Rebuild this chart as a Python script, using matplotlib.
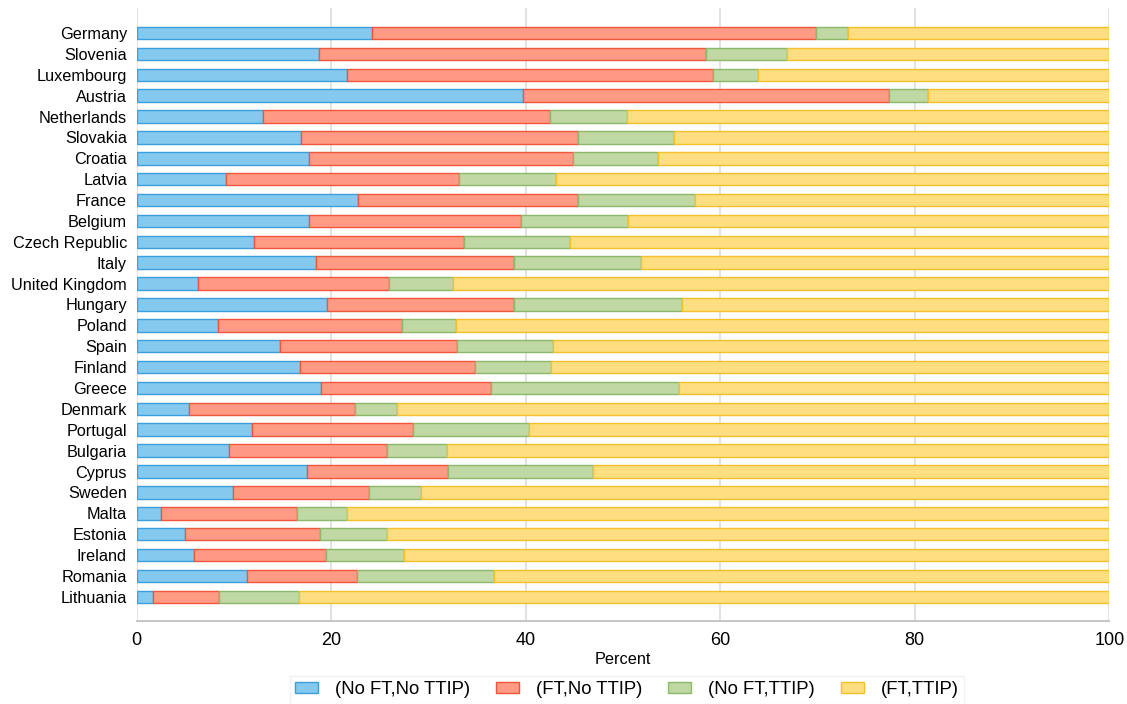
import matplotlib
matplotlib.use("Agg")
import matplotlib.pyplot as plt
import numpy as np

countries = ["Germany", "Slovenia", "Luxembourg", "Austria", "Netherlands", "Slovakia",
             "Croatia", "Latvia", "France", "Belgium", "Czech Republic", "Italy",
             "United Kingdom", "Hungary", "Poland", "Spain", "Finland", "Greece",
             "Denmark", "Portugal", "Bulgaria", "Cyprus", "Sweden", "Malta",
             "Estonia", "Ireland", "Romania", "Lithuania"]

# segment values (percent)
no_ft_no_ttip = [24.2, 18.7, 21.6, 39.7, 13.0, 16.9, 17.7, 9.2, 22.8, 17.7, 12.1, 18.4,
                 6.3, 19.6, 8.4, 14.7, 16.8, 19.0, 5.4, 11.9, 9.5, 17.5, 9.9, 2.5,
                 5.0, 5.9, 11.3, 1.7]
ft_no_ttip = [45.6, 39.8, 37.7, 37.7, 29.5, 28.5, 27.2, 23.9, 22.6, 21.8, 21.6, 20.4,
              19.6, 19.2, 18.9, 18.2, 18.0, 17.4, 17.0, 16.5, 16.2, 14.5, 14.0, 14.0,
              13.8, 13.6, 11.4, 6.8]
no_ft_ttip = [3.3, 8.4, 4.6, 4.0, 7.9, 9.8, 8.7, 10.0, 12.0, 11.0, 10.9, 13.0,
              6.6, 17.3, 5.5, 9.9, 7.8, 19.4, 4.4, 11.9, 6.2, 14.9, 5.3, 5.1,
              6.9, 8.0, 14.0, 8.2]
ft_ttip = [100 - a - b - c for a, b, c in zip(no_ft_no_ttip, ft_no_ttip, no_ft_ttip)]

series_labels = ["(No FT,No TTIP)", "(FT,No TTIP)", "(No FT,TTIP)", "(FT,TTIP)"]
fills = ["#86C9EE", "#FF9B85", "#C0D8A4", "#FFDE82"]
edges = ["#3A9FDB", "#F2553A", "#8CB86A", "#F5C02A"]

plt.rcParams['font.family'] = ['Liberation Sans', 'DejaVu Sans']

fig = plt.figure(figsize=(11.27, 7.04), dpi=100)
ax = fig.add_axes([136.7 / 1127, 1 - 621 / 704, (1109.3 - 136.7) / 1127, (621 - 8) / 704])

y = np.arange(len(countries))
left = np.zeros(len(countries))
handles = []
for vals, lab, fc, ec in zip([no_ft_no_ttip, ft_no_ttip, no_ft_ttip, ft_ttip],
                             series_labels, fills, edges):
    h = ax.barh(y, vals, left=left, height=0.6, color=fc, edgecolor=ec,
                linewidth=1.0, label=lab, zorder=3)
    handles.append(h)
    left = left + np.array(vals)

ax.set_ylim(len(countries) - 1 + 1.16, -1.2)
ax.set_xlim(0, 100)
ax.set_xticks([0, 20, 40, 60, 80, 100])
ax.set_yticks(y)
ax.set_yticklabels(countries, fontsize=11.7)
ax.tick_params(axis='y', length=0, pad=7)
ax.tick_params(axis='x', length=0, pad=8, labelsize=13)
ax.grid(axis='x', color='#dddddd', linewidth=1.2, zorder=0)
for s in ['top', 'right', 'left']:
    ax.spines[s].set_visible(False)
ax.spines['bottom'].set_color('#bbbbbb')
ax.spines['bottom'].set_linewidth(1.2)
ax.set_xlabel("Percent", fontsize=11.7, labelpad=2)

leg = fig.legend(handles=handles, labels=series_labels, loc='center',
                 bbox_to_anchor=(627 / 1127, 1 - 690 / 704), ncol=4, fontsize=13.3,
                 frameon=True, fancybox=False, edgecolor='#eeeeee',
                 handlelength=1.24, handleheight=0.54, handletextpad=0.92,
                 columnspacing=1.4, borderpad=0.3)

fig.savefig("out.png", dpi=100)
